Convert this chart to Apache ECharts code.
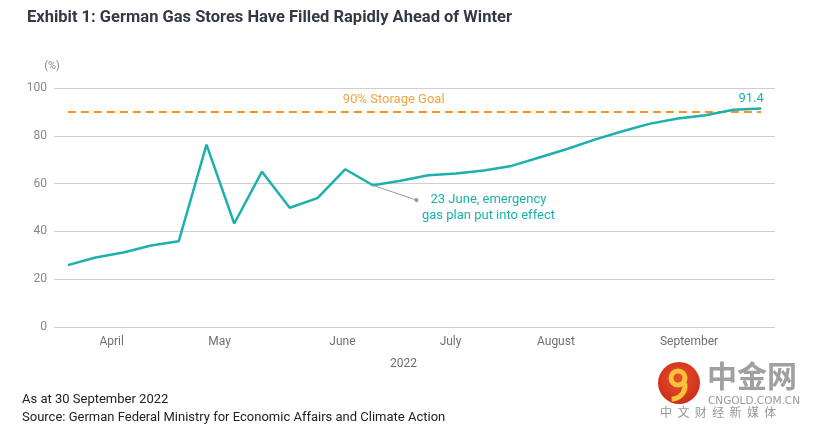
<!DOCTYPE html>
<html>
<head>
<meta charset="utf-8">
<script src="https://cdn.jsdelivr.net/npm/echarts@6/dist/echarts.min.js"></script>
<style>html,body{margin:0;padding:0;background:#fff;}#c{width:814px;height:431px;}</style>
</head>
<body>
<div id="c"></div>
<script>
// Weekly readings, early April to 30 September 2022 (index = week number)
var weeks = ['w0','w1','w2','w3','w4','w5','w6','w7','w8','w9','w10','w11','w12','w13','w14','w15','w16','w17','w18','w19','w20','w21','w22','w23','w24','w25'];
var storage = [25.9, 29.1, 31.2, 34.1, 35.9, 76.3, 43.3, 65.0, 49.9, 53.9, 66.0, 59.3, 61.2, 63.5, 64.2, 65.5, 67.4, 70.9, 74.5, 78.4, 81.9, 85.1, 87.2, 88.6, 90.9, 91.4];
var goalValue = 90;
var monthNames = ['April', 'May', 'June', 'July', 'August', 'September'];
var monthTicks = [1.58, 5.47, 9.9, 13.8, 17.6, 22.4];
var eventIndex = 11;
var eventNote = [12.57, 53.1];

var chart = echarts.init(document.getElementById('c'));
var teal = '#1cb1ac';
var lineData = storage.map(function (v, i) {
  var item = { value: [i, v] };
  if (i === storage.length - 1) {
    item.label = { show: true, position: 'top', offset: [-10, 2], formatter: String(v), color: teal, fontSize: 13, fontFamily: 'Roboto' };
  }
  return item;
});

chart.setOption({
  animation: false,
  textStyle: { fontFamily: 'Roboto' },
  title: {
    text: 'Exhibit 1: German Gas Stores Have Filled Rapidly Ahead of Winter',
    left: 22, top: 4,
    textStyle: { fontSize: 16.5, fontWeight: 'bold', color: '#333a45', fontFamily: 'Roboto' }
  },
  grid: { left: 54, right: 39, top: 88, bottom: 104 },
  xAxis: {
    type: 'value', min: -0.5, max: 25.5,
    axisLine: { show: false }, axisTick: { show: false }, splitLine: { show: false },
    axisLabel: {
      customValues: monthTicks,
      formatter: function (v) {
        for (var i = 0; i < monthTicks.length; i++) { if (Math.abs(monthTicks[i] - v) < 1e-6) return monthNames[i]; }
        return '';
      },
      color: '#6f6f6f', fontSize: 12, margin: 9
    },
    name: '2022', nameLocation: 'middle', nameGap: 31,
    nameTextStyle: { color: '#6f6f6f', fontSize: 12, padding: [0, 22, 0, 0] }
  },
  yAxis: {
    type: 'value', min: 0, max: 100, interval: 20,
    axisLine: { show: false }, axisTick: { show: false },
    splitLine: { lineStyle: { color: '#cfcfcf', width: 1 } },
    axisLabel: { color: '#888', fontSize: 12, margin: 7 },
    name: '(%)', nameLocation: 'end', nameGap: 16,
    nameTextStyle: { color: '#888', fontSize: 11, align: 'right', padding: [0, 8, 0, 0] }
  },
  series: [
    {
      type: 'line',
      data: weeks.map(function (w, i) { return [i, goalValue]; }),
      symbol: 'none', silent: true,
      lineStyle: { color: '#f7941d', width: 2, type: [8, 5] },
      markPoint: {
        symbol: 'circle', symbolSize: 0,
        itemStyle: { color: 'rgba(0,0,0,0)' },
        data: [{ coord: [11.75, goalValue], label: { show: true, formatter: '90% Storage Goal', position: 'inside', offset: [0, -12], color: '#f2a341', fontSize: 13 } }]
      },
      z: 2
    },
    {
      type: 'line',
      data: lineData,
      symbol: 'circle', symbolSize: 0, showSymbol: true,
      itemStyle: { color: teal },
      lineStyle: { color: teal, width: 2.5 },
      markLine: {
        silent: true,
        symbol: ['none', 'circle'], symbolSize: 4,
        lineStyle: { color: '#999', width: 1, type: 'solid' },
        label: { show: false },
        data: [[{ coord: [eventIndex, storage[eventIndex]] }, { coord: eventNote }]]
      },
      markPoint: {
        symbol: 'circle', symbolSize: 0,
        itemStyle: { color: 'rgba(0,0,0,0)' },
        data: [{ coord: eventNote, label: { show: true, formatter: '23 June, emergency\ngas plan put into effect', position: 'inside', offset: [72, 8], align: 'center', color: teal, fontSize: 13, lineHeight: 16 } }]
      },
      z: 3
    }
  ],
  graphic: [
    { type: 'text', left: 22, top: 393, style: { text: 'As at 30 September 2022', fill: '#222', font: '13px Roboto' } },
    { type: 'text', left: 22, top: 411, style: { text: 'Source: German Federal Ministry for Economic Affairs and Climate Action', fill: '#222', font: '13px Roboto' } },
    { type: 'circle', shape: { cx: 679, cy: 383, r: 21 }, style: { fill: new echarts.graphic.RadialGradient(0.5, 0.4, 0.7, [{ offset: 0, color: '#e8502a' }, { offset: 1, color: '#c8281a' }]) } },
    { type: 'arc', shape: { cx: 678, cy: 378, r: 7, startAngle: 0, endAngle: Math.PI * 2 }, style: { stroke: '#f7c23a', lineWidth: 5, fill: null } },
    { type: 'arc', shape: { cx: 672, cy: 386, r: 13, startAngle: -0.2, endAngle: 1.6 }, style: { stroke: '#f7c23a', lineWidth: 5, fill: null } },
    { type: 'text', left: 707, top: 361, style: { text: '中金网', fill: '#a0a0a0', font: 'bold 30px "Noto Sans CJK SC"' } },
    { type: 'text', left: 708, top: 396, style: { text: 'CNGOLD.COM.CN', fill: '#999', font: '10.5px "DejaVu Sans"' } },
    { type: 'text', left: 660, top: 406, style: { text: '中  文  财  经  新  媒  体', fill: '#999', font: '12px "Noto Sans CJK SC"' } }
  ]
});
</script>
</body>
</html>
